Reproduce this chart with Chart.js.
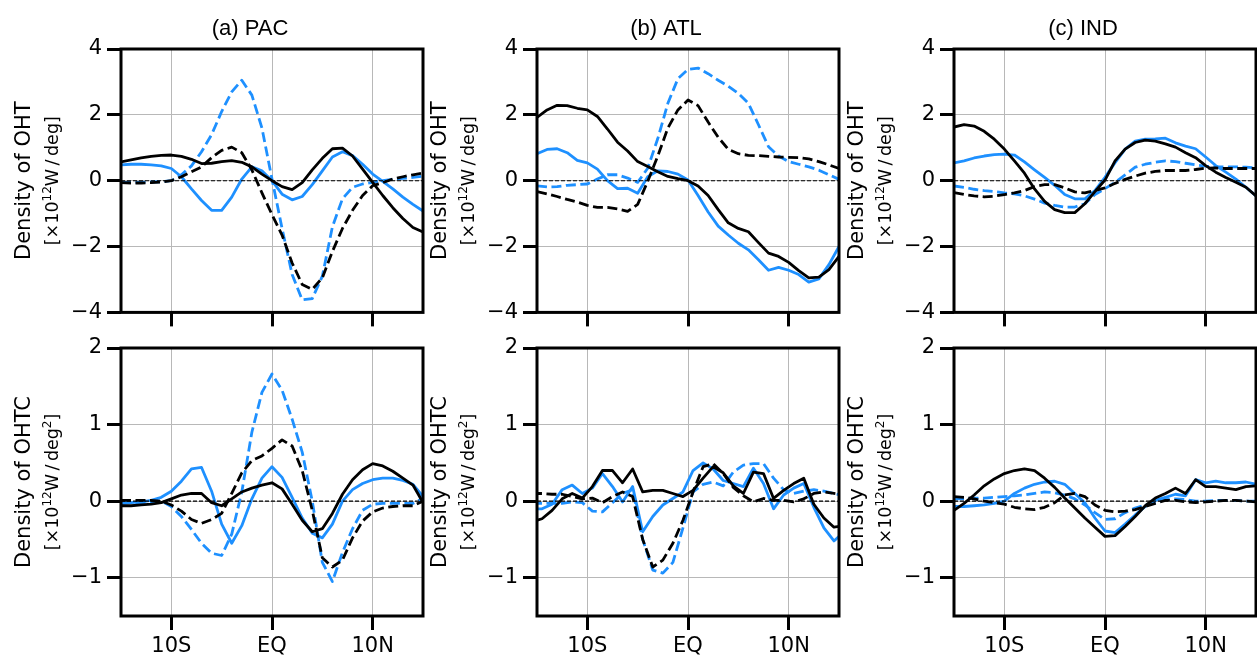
<!DOCTYPE html>
<html>
<head>
<meta charset="utf-8">
<script src="https://cdn.jsdelivr.net/npm/chart.js@4.4.1/dist/chart.umd.min.js"></script>
<style>
  body { margin: 0; background: #fff; width: 1257px; height: 655px; overflow: hidden; position: relative; }
  canvas { position: absolute; }
</style>
</head>
<body>
<script>
// latitude grids (deg, negative = south)
const lat = [-15,-14,-13,-12,-11,-10,-9,-8,-7,-6,-5,-4,-3,-2,-1,0,1,2,3,4,5,6,7,8,9,10,11,12,13,14,15]
const latHalf = [-15.5,-14.5,-13.5,-12.5,-11.5,-10.5,-9.5,-8.5,-7.5,-6.5,-5.5,-4.5,-3.5,-2.5,-1.5,-0.5,0.5,1.5,2.5,3.5,4.5,5.5,6.5,7.5,8.5,9.5,10.5,11.5,12.5,13.5,14.5,15.5]

const xTickVals = [-10, 0, 10]
const xTickText = ['10S', 'EQ', '10N']
const yTicksOht = [-4, -2, 0, 2, 4]
const yTicksOhtc = [-1, 0, 1, 2]
const panelTitles = ['(a) PAC', '(b) ATL', '(c) IND']

// density of OHT [x10^12 W/deg]
const pacOhtBlue = [0.48,0.5,0.5,0.48,0.45,0.37,0.12,-0.25,-0.6,-0.9,-0.9,-0.5,0.05,0.42,0.3,0.0,-0.41,-0.58,-0.48,-0.12,0.3,0.72,0.88,0.76,0.5,0.2,-0.02,-0.25,-0.5,-0.72,-0.92]
const pacOhtBlueDash = [-0.05,-0.05,-0.05,-0.04,-0.03,0.0,0.18,0.45,0.88,1.4,2.1,2.7,3.05,2.6,1.6,0.05,-1.45,-2.85,-3.62,-3.58,-2.9,-1.4,-0.55,-0.2,-0.1,-0.05,0.0,0.04,0.07,0.1,0.14]
const pacOhtBlack = [0.57,0.63,0.69,0.74,0.77,0.78,0.74,0.65,0.52,0.53,0.58,0.61,0.56,0.42,0.2,0.0,-0.18,-0.27,-0.06,0.33,0.68,0.97,0.99,0.75,0.35,-0.05,-0.45,-0.82,-1.15,-1.42,-1.56]
const pacOhtBlackDash = [-0.06,-0.07,-0.07,-0.06,-0.04,0.0,0.12,0.27,0.42,0.7,0.92,1.02,0.85,0.33,-0.37,-1.03,-1.65,-2.5,-3.15,-3.3,-2.95,-2.15,-1.45,-0.9,-0.45,-0.15,-0.06,0.05,0.12,0.18,0.23]

const atlOhtBlue = [0.82,0.95,0.97,0.85,0.62,0.54,0.35,0.0,-0.24,-0.23,-0.38,0.12,0.3,0.28,0.2,0.02,-0.45,-0.95,-1.38,-1.65,-1.9,-2.1,-2.4,-2.72,-2.63,-2.72,-2.85,-3.08,-2.98,-2.55,-2.0]
const atlOhtBlueDash = [-0.16,-0.19,-0.18,-0.14,-0.12,-0.1,0.05,0.18,0.18,0.08,-0.05,0.38,1.28,2.35,3.1,3.38,3.42,3.25,3.05,2.87,2.65,2.35,1.7,1.03,0.75,0.58,0.5,0.42,0.32,0.18,0.04]
const atlOhtBlack = [1.92,2.15,2.29,2.28,2.2,2.15,1.95,1.57,1.17,0.9,0.58,0.43,0.27,0.13,0.06,0.0,-0.16,-0.45,-0.88,-1.28,-1.45,-1.55,-1.88,-2.2,-2.3,-2.48,-2.73,-2.95,-2.93,-2.7,-2.3]
const atlOhtBlackDash = [-0.33,-0.4,-0.48,-0.57,-0.65,-0.75,-0.81,-0.81,-0.86,-0.93,-0.72,-0.02,0.75,1.6,2.15,2.45,2.28,1.78,1.32,0.95,0.82,0.77,0.76,0.74,0.72,0.71,0.7,0.66,0.58,0.48,0.37]

const indOhtBlue = [0.54,0.6,0.69,0.75,0.79,0.81,0.78,0.57,0.33,0.1,-0.14,-0.42,-0.55,-0.55,-0.3,0.1,0.55,0.96,1.2,1.26,1.27,1.29,1.15,1.05,0.97,0.72,0.46,0.26,0.05,-0.2,-0.46]
const indOhtBlueDash = [-0.16,-0.2,-0.26,-0.3,-0.33,-0.37,-0.4,-0.46,-0.56,-0.68,-0.75,-0.8,-0.8,-0.7,-0.42,-0.24,-0.05,0.18,0.41,0.5,0.56,0.6,0.58,0.53,0.48,0.44,0.42,0.42,0.42,0.41,0.39]
const indOhtBlack = [1.63,1.7,1.66,1.5,1.26,0.96,0.6,0.23,-0.25,-0.63,-0.88,-0.97,-0.97,-0.7,-0.33,0.02,0.6,0.96,1.16,1.23,1.2,1.12,1.02,0.85,0.7,0.46,0.26,0.1,-0.05,-0.2,-0.46]
const indOhtBlackDash = [-0.36,-0.42,-0.46,-0.49,-0.47,-0.42,-0.37,-0.3,-0.18,-0.12,-0.12,-0.22,-0.34,-0.37,-0.3,-0.22,-0.08,0.04,0.14,0.23,0.28,0.31,0.31,0.31,0.34,0.38,0.39,0.37,0.37,0.37,0.37]

// density of OHTC [x10^12 W/deg^2]
const pacOhtcBlue = [-0.03,-0.02,-0.01,0.01,0.05,0.13,0.26,0.42,0.44,0.13,-0.3,-0.55,-0.32,0.03,0.3,0.45,0.31,0.05,-0.22,-0.42,-0.48,-0.3,0.0,0.15,0.23,0.28,0.3,0.3,0.27,0.22,0.06]
const pacOhtcBlueDash = [-0.03,-0.02,-0.02,-0.01,0.0,-0.07,-0.2,-0.37,-0.55,-0.68,-0.71,-0.43,0.12,0.9,1.42,1.66,1.45,1.07,0.64,0.0,-0.8,-1.05,-0.67,-0.36,-0.12,-0.04,-0.03,-0.03,-0.03,-0.03,0.04]
const pacOhtcBlack = [-0.06,-0.06,-0.05,-0.04,-0.02,0.03,0.08,0.1,0.1,-0.02,-0.06,0.03,0.12,0.17,0.21,0.24,0.16,-0.04,-0.25,-0.4,-0.36,-0.16,0.09,0.28,0.41,0.49,0.46,0.39,0.3,0.21,-0.02]
const pacOhtcBlackDash = [0.01,0.01,0.01,0.01,0.0,-0.05,-0.13,-0.24,-0.29,-0.24,-0.16,0.1,0.37,0.53,0.59,0.69,0.8,0.72,0.4,-0.12,-0.74,-0.86,-0.77,-0.48,-0.26,-0.14,-0.09,-0.07,-0.06,-0.06,0.0]

const atlOhtcBlue = [-0.1,-0.1,-0.04,0.15,0.21,0.1,0.17,0.36,0.19,-0.01,0.19,-0.4,-0.2,-0.05,0.035,0.12,0.4,0.5,0.42,0.27,0.23,0.19,0.43,0.23,-0.1,0.08,0.17,0.23,-0.08,-0.35,-0.52,-0.4]
const atlOhtcBlueDash = [-0.03,-0.03,-0.03,-0.03,-0.01,-0.02,-0.13,-0.14,-0.02,0.1,0.15,-0.5,-0.9,-0.94,-0.8,-0.35,0.12,0.22,0.25,0.2,0.38,0.47,0.49,0.49,0.3,0.15,0.1,0.13,0.15,0.13,0.1,0.07]
const atlOhtcBlack = [-0.27,-0.23,-0.12,0.03,0.1,0.04,0.19,0.4,0.4,0.24,0.42,0.12,0.14,0.14,0.1,0.06,0.14,0.3,0.45,0.37,0.2,0.1,0.38,0.36,0.035,0.14,0.23,0.3,-0.04,-0.22,-0.34,-0.32]
const atlOhtcBlackDash = [0.1,0.1,0.09,0.09,0.06,0.03,0.04,-0.02,0.06,0.12,0.06,-0.5,-0.86,-0.77,-0.55,-0.25,0.12,0.45,0.49,0.36,0.18,0.07,-0.01,0.035,0.01,0.01,-0.01,0.03,0.1,0.12,0.1,0.08]

const indOhtcBlue = [-0.07,-0.07,-0.06,-0.05,-0.03,0.0,0.1,0.17,0.22,0.25,0.26,0.22,0.1,-0.02,-0.22,-0.39,-0.41,-0.3,-0.18,-0.07,0.01,0.05,0.09,0.07,0.28,0.24,0.26,0.24,0.24,0.25,0.22]
const indOhtcBlueDash = [0.03,0.03,0.04,0.04,0.05,0.06,0.07,0.08,0.1,0.12,0.11,0.08,0.03,-0.05,-0.15,-0.24,-0.23,-0.15,-0.09,-0.05,-0.02,0.02,0.03,0.02,0.0,0.0,0.01,0.01,0.01,0.0,0.0]
const indOhtcBlack = [-0.12,-0.03,0.08,0.2,0.29,0.36,0.4,0.42,0.4,0.3,0.18,0.04,-0.09,-0.22,-0.34,-0.46,-0.45,-0.33,-0.2,-0.06,0.04,0.1,0.17,0.1,0.28,0.19,0.19,0.17,0.15,0.19,0.2]
const indOhtcBlackDash = [0.06,0.05,0.03,0.0,-0.02,-0.04,-0.08,-0.1,-0.11,-0.08,-0.02,0.08,0.1,0.06,-0.05,-0.12,-0.14,-0.13,-0.11,-0.07,-0.03,0.01,0.01,-0.01,-0.02,-0.01,0.0,0.01,0.01,0.0,-0.01]

const blue = '#1E90FF'
const gridColor = '#b8b8b8'
const lineW = 2.8
const xMin = -15, xMax = 15

// unit label pieces: [text, superscript?]
const unitOht = [['[\u00d710', false], ['12', true], ['W\u2009/\u2009deg]', false]]
const unitOhtc = [['[\u00d710', false], ['12', true], ['W\u2009/\u2009deg', false], ['2', true], [']', false]]

const colLeft = [121, 537, 954]
const yAxisW = 121
const rows = [
  { top: 0, height: 330, padTop: 49, xAxisH: 14, yMin: -4, yMax: 4, yTicks: yTicksOht, lab1: 'Density of OHT', lab2: unitOht, labels: false },
  { top: 330, height: 325, padTop: 18, xAxisH: 39, yMin: -1.5, yMax: 2, yTicks: yTicksOhtc, lab1: 'Density of OHTC', lab2: unitOhtc, labels: true },
]

const panels = [
  [0, 0, lat, pacOhtBlue, pacOhtBlueDash, pacOhtBlack, pacOhtBlackDash],
  [0, 1, lat, atlOhtBlue, atlOhtBlueDash, atlOhtBlack, atlOhtBlackDash],
  [0, 2, lat, indOhtBlue, indOhtBlueDash, indOhtBlack, indOhtBlackDash],
  [1, 0, lat, pacOhtcBlue, pacOhtcBlueDash, pacOhtcBlack, pacOhtcBlackDash],
  [1, 1, latHalf, atlOhtcBlue, atlOhtcBlueDash, atlOhtcBlack, atlOhtcBlackDash],
  [1, 2, lat, indOhtcBlue, indOhtcBlueDash, indOhtcBlack, indOhtcBlackDash],
]

const fmt = (v) => (v < 0 ? '\u2212' + Math.abs(v) : String(v))
const pts = (xs, ys) => xs.map((x, i) => ({ x, y: ys[i] }))

const baseFont = '17.5px "DejaVu Sans"'
const supFont = '12px "DejaVu Sans"'

function drawUnit(ctx, parts) {
  // measure, then draw centred on the origin (already rotated)
  let total = 0
  parts.forEach(([t, sup]) => {
    ctx.font = sup ? supFont : baseFont
    total += ctx.measureText(t).width
  })
  let x = -total / 2
  parts.forEach(([t, sup]) => {
    ctx.font = sup ? supFont : baseFont
    ctx.fillText(t, x, sup ? -1 : 6)
    x += ctx.measureText(t).width
  })
}

const framePlugin = {
  id: 'frame',
  afterDatasetsDraw(chart) {
    const { ctx, chartArea: a } = chart
    ctx.save()
    ctx.strokeStyle = '#000'
    ctx.lineWidth = 3
    ctx.strokeRect(a.left, a.top, a.right - a.left, a.bottom - a.top)
    ctx.restore()
  },
  afterDraw(chart, args, opts) {
    const { ctx, chartArea: a } = chart
    const midY = (a.top + a.bottom) / 2
    ctx.save()
    ctx.fillStyle = '#000'
    ctx.textAlign = 'center'
    ctx.textBaseline = 'middle'
    ctx.translate(a.left - 96, midY)
    ctx.rotate(-Math.PI / 2)
    ctx.font = '21px "DejaVu Sans"'
    ctx.fillText(opts.lab1, 0, 0)
    ctx.restore()

    ctx.save()
    ctx.fillStyle = '#000'
    ctx.textAlign = 'left'
    ctx.textBaseline = 'alphabetic'
    ctx.translate(a.left - 69, midY)
    ctx.rotate(-Math.PI / 2)
    drawUnit(ctx, opts.lab2)
    ctx.restore()

    if (opts.title) {
      ctx.save()
      ctx.fillStyle = '#000'
      ctx.textAlign = 'center'
      ctx.textBaseline = 'alphabetic'
      ctx.font = '22px "Liberation Sans"'
      ctx.fillText(opts.title, (a.left + a.right) / 2 - 22, 35)
      ctx.restore()
    }
  },
}

panels.forEach(([r, c, xs, b, bd, k, kd]) => {
  const row = rows[r]
  const canvas = document.createElement('canvas')
  const w = yAxisW + 302 + 6
  canvas.width = w
  canvas.height = row.height
  canvas.style.left = (colLeft[c] - yAxisW) + 'px'
  canvas.style.top = row.top + 'px'
  canvas.style.width = w + 'px'
  canvas.style.height = row.height + 'px'
  document.body.appendChild(canvas)

  new Chart(canvas.getContext('2d'), {
    type: 'line',
    data: {
      datasets: [
        { data: [{ x: xMin, y: 0 }, { x: xMax, y: 0 }], borderColor: '#000', borderWidth: 1.1, borderDash: [4, 2] },
        { data: pts(xs, kd), borderColor: '#000', borderWidth: lineW, borderDash: [10, 4.5] },
        { data: pts(xs, k), borderColor: '#000', borderWidth: lineW },
        { data: pts(xs, bd), borderColor: blue, borderWidth: lineW, borderDash: [10, 4.5] },
        { data: pts(xs, b), borderColor: blue, borderWidth: lineW },
      ],
    },
    options: {
      responsive: false,
      animation: false,
      devicePixelRatio: 1,
      layout: { padding: { top: row.padTop, right: 6, left: 0, bottom: 0 } },
      elements: { point: { radius: 0 }, line: { tension: 0, fill: false, borderJoinStyle: 'round' } },
      plugins: {
        legend: { display: false },
        tooltip: { enabled: false },
        frame: { title: r === 0 ? panelTitles[c] : null, lab1: row.lab1, lab2: row.lab2 },
      },
      scales: {
        x: {
          type: 'linear',
          min: xMin,
          max: xMax,
          afterBuildTicks: (s) => { s.ticks = xTickVals.map((v) => ({ value: v })) },
          afterFit: (s) => { s.height = row.xAxisH },
          border: { display: false },
          grid: { color: gridColor, lineWidth: 1, tickLength: 14, tickWidth: 3, tickColor: '#000' },
          ticks: {
            display: row.labels,
            autoSkip: false,
            maxRotation: 0,
            padding: 4,
            color: '#000',
            font: { family: 'DejaVu Sans', size: 21 },
            callback: (v) => xTickText[xTickVals.indexOf(v)],
          },
        },
        y: {
          min: row.yMin,
          max: row.yMax,
          afterBuildTicks: (s) => { s.ticks = row.yTicks.map((v) => ({ value: v })) },
          afterFit: (s) => { s.width = yAxisW },
          border: { display: false },
          grid: { color: gridColor, lineWidth: 1, tickLength: 14, tickWidth: 3, tickColor: '#000' },
          ticks: {
            padding: 5,
            color: '#000',
            font: { family: 'DejaVu Sans', size: 21 },
            callback: (v) => fmt(v),
          },
        },
      },
    },
    plugins: [framePlugin],
  })
})
</script>
</body>
</html>
